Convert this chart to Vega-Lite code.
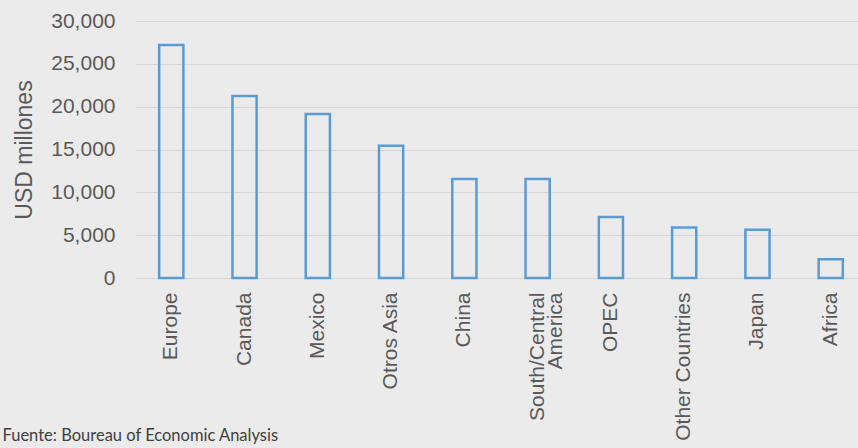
{
  "$schema": "https://vega.github.io/schema/vega-lite/v6.json",
  "width": 732,
  "height": 257,
  "autosize": "none",
  "padding": {"left": 135, "top": 21, "right": 0, "bottom": 170},
  "background": "#ebebeb",
  "config": {"view": {"stroke": null}, "font": "Liberation Sans"},
  "data": {
    "values": [
      {"region": "Europe", "value": 27200},
      {"region": "Canada", "value": 21250},
      {"region": "Mexico", "value": 19150},
      {"region": "Otros Asia", "value": 15450},
      {"region": "China", "value": 11550},
      {"region": "South/Central America", "value": 11550},
      {"region": "OPEC", "value": 7130},
      {"region": "Other Countries", "value": 5900},
      {"region": "Japan", "value": 5620},
      {"region": "Africa", "value": 2200}
    ]
  },
  "mark": {"type": "bar", "filled": false, "stroke": "#5B9BD5", "strokeWidth": 2.5},
  "encoding": {
    "x": {
      "field": "region",
      "type": "nominal",
      "sort": null,
      "scale": {"paddingInner": 0.67, "paddingOuter": 0.33},
      "axis": {
        "title": "Fuente: Boureau of Economic Analysis",
        "titleFont": "Lato",
        "titleFontSize": 16.5,
        "titleFontWeight": "normal",
        "titleColor": "#404040",
        "titleAnchor": "start",
        "titleAlign": "left",
        "titleBaseline": "alphabetic",
        "titleX": -133,
        "titleY": 162,
        "labelAngle": -90,
        "labelFont": "Liberation Sans",
        "labelFontSize": 21,
        "labelColor": "#595959",
        "labelPadding": 14,
        "labelLineHeight": 18,
        "labelExpr": "datum.value == 'South/Central America' ? ['South/Central', 'America'] : datum.value",
        "domain": false,
        "ticks": false
      }
    },
    "y": {
      "field": "value",
      "type": "quantitative",
      "scale": {"domain": [0, 30000]},
      "axis": {
        "title": "USD millones",
        "titleFont": "Liberation Sans",
        "titleFontSize": 23,
        "titleFontWeight": "normal",
        "titleColor": "#595959",
        "titlePadding": 14,
        "values": [0, 5000, 10000, 15000, 20000, 25000, 30000],
        "format": ",.0f",
        "labelFont": "Liberation Sans",
        "labelFontSize": 21,
        "labelColor": "#595959",
        "labelPadding": 20,
        "domain": false,
        "ticks": false,
        "gridColor": "#d6d6d6",
        "gridWidth": 1.2
      }
    }
  }
}
